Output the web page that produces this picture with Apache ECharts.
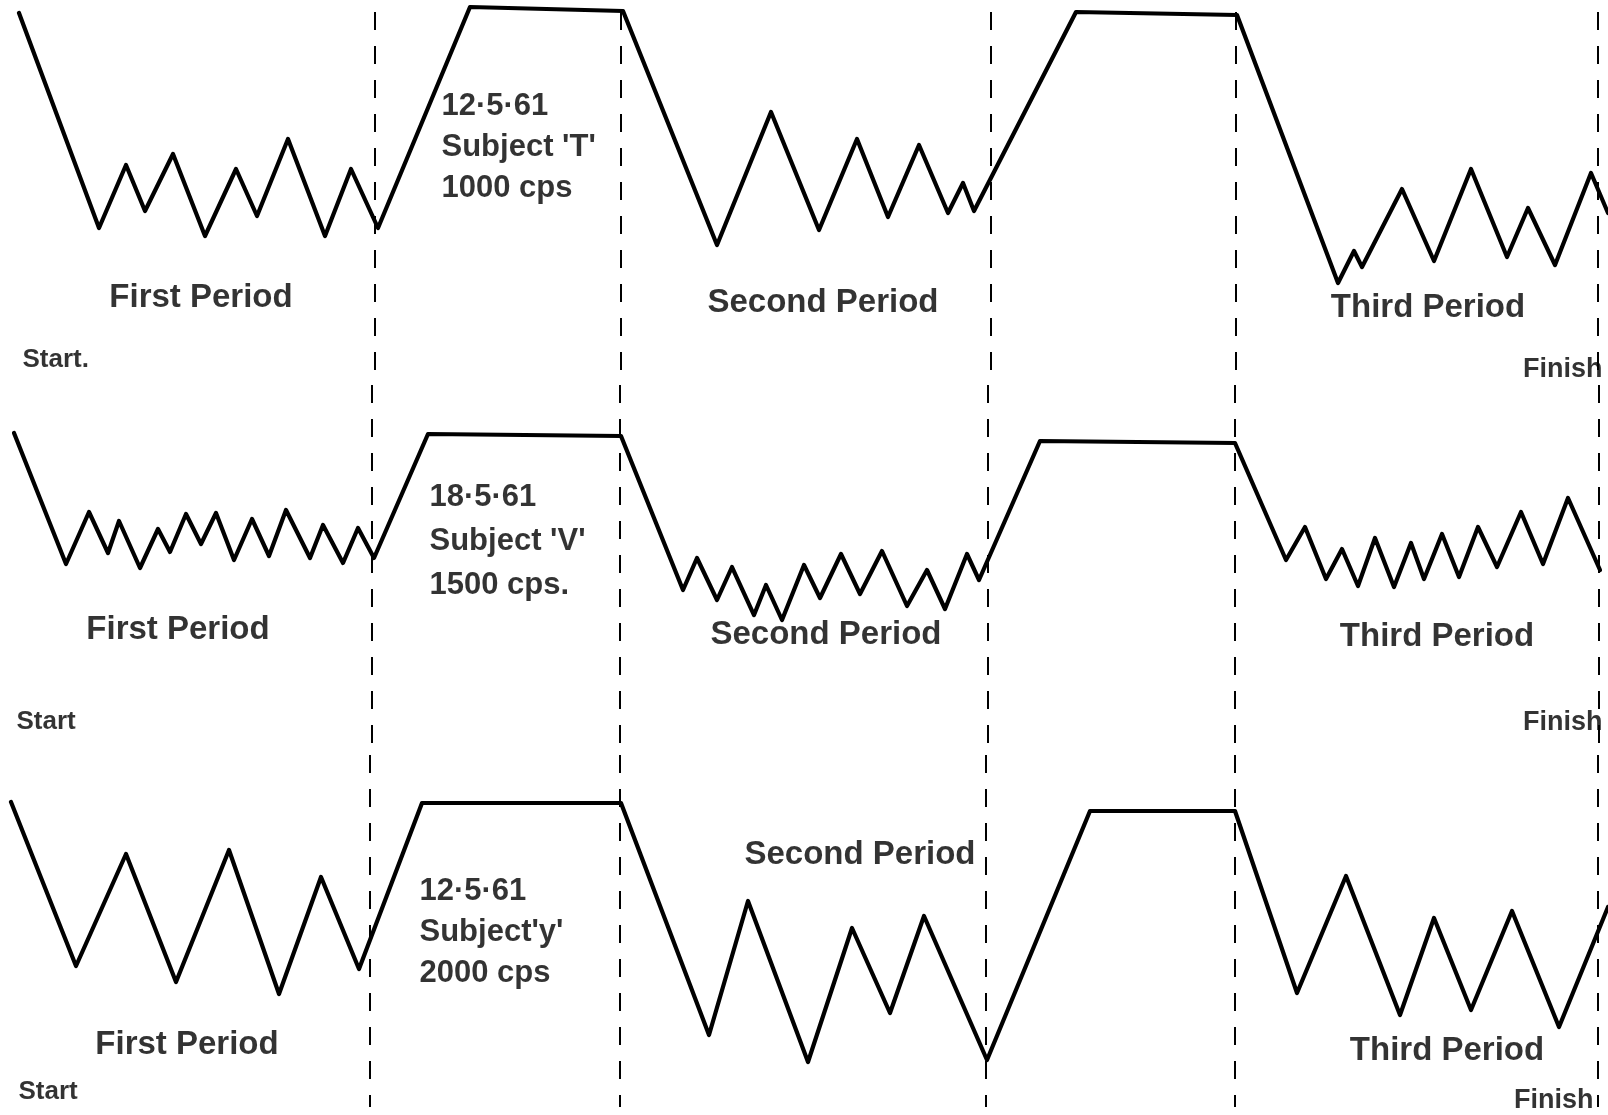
<!DOCTYPE html>
<html><head><meta charset="utf-8">
<script src="https://cdn.jsdelivr.net/npm/echarts@6/dist/echarts.min.js"></script>
<style>html,body{margin:0;padding:0;background:#fff}#c{width:1608px;height:1115px}</style>
</head><body><div id="c"></div>
<script>
// ---- Tracing 1: 12.5.61, Subject 'T', 1000 cps ----
const row1Time  = [19, 99, 126, 145, 173, 205, 236, 257, 288, 325, 351, 378, 470, 623, 717, 771, 819, 857, 888, 919, 948, 963, 974, 1076, 1237, 1338, 1354, 1362, 1402, 1434, 1471, 1507, 1528, 1555, 1591, 1608];
const row1Level = [13, 228, 165, 211, 154, 236, 169, 216, 139, 236, 169, 228, 7, 11, 245, 112, 230, 139, 217, 145, 213, 183, 211, 12, 15, 283, 251, 267, 189, 261, 169, 257, 208, 265, 173, 213];

// ---- Tracing 2: 18.5.61, Subject 'V', 1500 cps ----
const row2Time  = [14, 66, 89, 108, 119, 140, 158, 170, 186, 201, 216, 234, 252, 269, 286, 310, 323, 343, 358, 374, 428, 621, 683, 697, 717, 732, 754, 766, 782, 804, 820, 841, 860, 882, 907, 927, 945, 967, 979, 1040, 1235, 1286, 1305, 1326, 1342, 1358, 1375, 1394, 1411, 1424, 1442, 1459, 1478, 1497, 1521, 1543, 1568, 1600];
const row2Level = [433, 564, 512, 553, 521, 568, 529, 552, 514, 544, 513, 560, 519, 556, 510, 558, 525, 563, 528, 558, 434, 436, 590, 558, 600, 567, 615, 585, 620, 565, 598, 554, 594, 551, 606, 570, 609, 554, 580, 441, 443, 560, 527, 579, 549, 586, 538, 587, 543, 579, 534, 577, 527, 567, 512, 564, 498, 570];

// ---- Tracing 3: 12.5.61, Subject 'y', 2000 cps ----
const row3Time  = [11, 76, 126, 176, 229, 279, 321, 359, 422, 621, 709, 748, 808, 852, 890, 924, 987, 1090, 1235, 1297, 1346, 1400, 1434, 1471, 1512, 1559, 1608];
const row3Level = [802, 966, 854, 982, 850, 994, 877, 969, 803, 803, 1035, 901, 1062, 928, 1013, 916, 1060, 811, 811, 993, 876, 1015, 918, 1010, 911, 1027, 907];

// period boundary marks (time) per tracing
const row1Bounds = [375, 621, 991, 1236, 1598];
const row2Bounds = [372, 620, 988, 1235, 1599];
const row3Bounds = [370, 620, 986, 1235, 1598];

// level range of each tracing panel
const panelMin = [0, 385, 755];
const panelMax = [385, 755, 1115];

// texts
const periodNames = ['First Period', 'Second Period', 'Third Period'];
const captions = [
  "12·5·61\nSubject 'T'\n1000 cps",
  "18·5·61\nSubject 'V'\n1500 cps.",
  "12·5·61\nSubject'y'\n2000 cps"
];
const startNames = ['Start.', 'Start', 'Start'];
const finishName = 'Finish';

// text anchors (time, level)
const periodAnchors = [
  [[201, 298], [823, 303], [1428, 308]],
  [[178, 630], [826, 635], [1437, 637]],
  [[187, 1045], [860, 855], [1447, 1051]]
];
const captionAnchors = [[441, 147], [429, 541], [419, 932]];
const startAnchors = [[22, 360], [16, 722], [18, 1092]];
const finishAnchors = [[1603, 370], [1603, 723], [1594, 1101]];
const dashRanges = [[12, 385], [385, 755], [755, 1107]];

const FONT = "'Liberation Sans', Arial, 'DejaVu Sans', sans-serif";
const traces = [[row1Time, row1Level], [row2Time, row2Level], [row3Time, row3Level]];
const bounds = [row1Bounds, row2Bounds, row3Bounds];

const grids = [], xAxes = [], yAxes = [], series = [];
for (let i = 0; i < 3; i++) {
  grids.push({left: 0, right: 0, top: panelMin[i], height: panelMax[i] - panelMin[i], containLabel: false});
  xAxes.push({type: 'value', gridIndex: i, min: 0, max: 1608, show: false});
  yAxes.push({type: 'value', gridIndex: i, min: panelMin[i], max: panelMax[i], inverse: true, show: false});
  const [t, l] = traces[i];
  series.push({
    type: 'line', xAxisIndex: i, yAxisIndex: i, symbol: 'none', clip: false, silent: true, z: 3,
    data: t.map((x, k) => [x, l[k]]),
    lineStyle: {color: '#000', width: 4.2, join: 'round', cap: 'round'}
  });
  bounds[i].forEach(x => {
    series.push({
      type: 'line', xAxisIndex: i, yAxisIndex: i, symbol: 'none', clip: false, silent: true, z: 2,
      data: [[x, dashRanges[i][0]], [x, dashRanges[i][1]]],
      lineStyle: {color: '#000', width: 2, type: [18, 16]}
    });
  });
  const lab = (pos, text, position, size, extra) => ({
    value: pos,
    label: Object.assign({show: true, formatter: text, position: position, distance: 0,
      color: '#000', fontFamily: FONT, fontWeight: 'bold', fontSize: size}, extra || {})
  });
  const items = [];
  periodAnchors[i].forEach((p, k) => items.push(lab(p, periodNames[k], 'inside', 33)));
  items.push(lab(captionAnchors[i], captions[i], 'right', 31, {lineHeight: i === 1 ? 44 : 41, align: 'left'}));
  items.push(lab(startAnchors[i], startNames[i], 'right', 26));
  items.push(lab(finishAnchors[i], finishName, 'left', 27));
  series.push({
    type: 'scatter', xAxisIndex: i, yAxisIndex: i, symbolSize: 1, silent: true, z: 4,
    itemStyle: {color: 'rgba(0,0,0,0)'}, data: items
  });
}

const chart = echarts.init(document.getElementById('c'), null, {renderer: 'canvas'});
chart.setOption({
  animation: false,
  backgroundColor: '#fff',
  grid: grids, xAxis: xAxes, yAxis: yAxes, series: series
});
</script></body></html>
